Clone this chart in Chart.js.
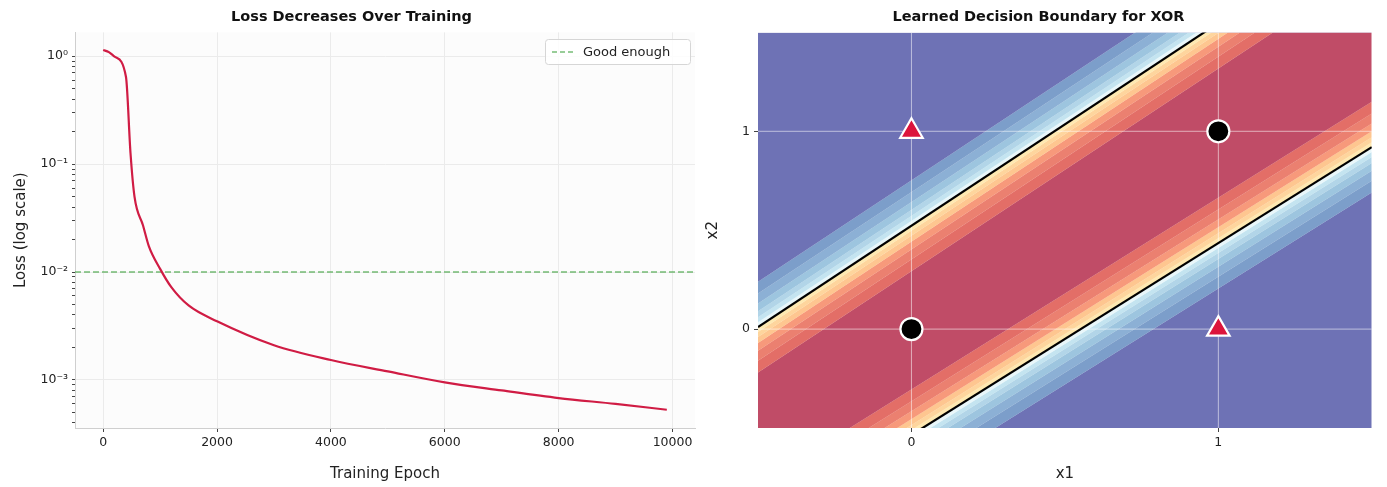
<!DOCTYPE html>
<html><head><meta charset="utf-8">
<script src="https://cdn.jsdelivr.net/npm/chart.js@4"></script>
<style>
body{margin:0;background:#fff;width:1387px;height:487px;overflow:hidden;font-family:"DejaVu Sans",sans-serif}
.box{position:absolute;top:0;height:487px}
#b1{left:0;width:700px}#b2{left:700px;width:687px}
</style></head><body>
<div class="box" id="b1"><canvas id="lossChart"></canvas></div>
<div class="box" id="b2"><canvas id="xorChart"></canvas></div>
<script>
// loss curve
var epochs = [0, 100, 200, 400, 480, 550, 700, 800, 1000, 1200, 1500, 2000, 3000, 4000, 5000, 6000, 7000, 8000, 9000, 9900];
var losses = [1.14, 1.09, 0.99, 0.645, 0.126, 0.05, 0.027, 0.0175, 0.0107, 0.0072, 0.0049, 0.0035, 0.0021, 0.00153, 0.0012, 0.00095, 0.0008, 0.00068, 0.0006, 0.00053];
var goodEnough = 0.01;
var epochTicks = [0, 2000, 4000, 6000, 8000, 10000];

// decision boundary (p = 0.5) lines, endpoints at x1 = -0.5 and 1.5
var edgeX = [-0.5, 1.5];
var upperBoundary = [0.01, 2.06];
var lowerBoundary = [-1.02, 0.92];
// contour level offsets around each boundary (x2 units), blue side first for upper line
var levelOffsets = [0.23, 0.17, 0.12, 0.08, 0.05, 0.025, 0, -0.025, -0.05, -0.08, -0.12, -0.17, -0.23];
var blueBands = ["#4575b4", "#5b8fc3", "#74add1", "#91c3de", "#abd9e9", "#e0f3f8"];
var redBands = ["#fee090", "#fdc374", "#fdae61", "#f46d43", "#e34a33", "#d73027"];
var blueSolid = "#313695", redSolid = "#a50026";
var circlePts = [{x: 0, y: 0}, {x: 1, y: 1}];
var trianglePts = [{x: 0, y: 1}, {x: 1, y: 0}];
var gridTicks = [0, 1];

function alpha(hex, a) {
  var n = parseInt(hex.slice(1), 16);
  return "rgba(" + (n >> 16) + "," + ((n >> 8) & 255) + "," + (n & 255) + "," + a + ")";
}

Chart.defaults.font.family = "'DejaVu Sans', sans-serif";
Chart.defaults.color = "#222";
Chart.defaults.animation = false;

var supers = {"-": "⁻", "0": "⁰", "1": "¹", "2": "²", "3": "³"};
function sup(n) { return String(n).split("").map(function(c) { return supers[c]; }).join(""); }

var panelBg = {
  id: "panelBg",
  beforeDraw: function(c) {
    var a = c.chartArea, ctx = c.ctx;
    ctx.save(); ctx.fillStyle = "#fcfcfc";
    ctx.fillRect(a.left, a.top, a.right - a.left, a.bottom - a.top);
    ctx.restore();
  }
};
var legendBox = {
  id: "legendBox",
  afterDraw: function(c) {
    var ctx = c.ctx, r = c.chartArea.right;
    var x = r - 150, y = 39;
    ctx.save();
    ctx.fillStyle = "rgba(255,255,255,0.85)"; ctx.strokeStyle = "#d6d6d6"; ctx.lineWidth = 1;
    ctx.beginPath(); ctx.roundRect(x + 0.5, y + 0.5, 145, 25, 3); ctx.fill(); ctx.stroke();
    ctx.strokeStyle = "rgba(60,160,60,0.7)"; ctx.lineWidth = 1.5; ctx.setLineDash([5, 3]);
    ctx.beginPath(); ctx.moveTo(x + 7, y + 13); ctx.lineTo(x + 30, y + 13); ctx.stroke();
    ctx.setLineDash([]); ctx.fillStyle = "#222"; ctx.font = "13px 'DejaVu Sans'"; ctx.textBaseline = "middle";
    ctx.fillText("Good enough", x + 38, y + 13.5);
    ctx.restore();
  }
};

var logTicks = [];
[-4, -3, -2, -1, 0].forEach(function(e) {
  for (var m = 1; m < 10; m++) {
    var v = m * Math.pow(10, e);
    if (v >= 3.59e-4 && v <= 1.66) logTicks.push({value: v, major: m === 1});
  }
});

new Chart(document.getElementById("lossChart"), {
  type: "line",
  data: {
    datasets: [{
      data: epochs.map(function(e, i) { return {x: e, y: losses[i]}; }),
      borderColor: "#d01c44", borderWidth: 2.2, pointRadius: 0, cubicInterpolationMode: "monotone"
    }, {
      data: [{x: -495, y: goodEnough}, {x: 10395, y: goodEnough}],
      borderColor: "rgba(60,160,60,0.7)", borderWidth: 1.5, borderDash: [6, 3], pointRadius: 0
    }]
  },
  plugins: [panelBg, legendBox],
  options: {
    responsive: true, maintainAspectRatio: false,
    layout: {padding: {right: 5, left: 8}},
    plugins: {
      legend: {display: false}, tooltip: {enabled: false},
      title: {display: true, text: "Loss Decreases Over Training", font: {size: 14.5, weight: "bold"}, color: "#111", padding: {top: 9, bottom: 6}}
    },
    scales: {
      x: {
        type: "linear", min: -495, max: 10395,
        afterBuildTicks: function(s) { s.ticks = epochTicks.map(function(v) { return {value: v}; }); },
        afterFit: function(s) { s.height = 59; },
        grid: {color: "#ebebeb", tickColor: "#444", tickLength: 4},
        border: {color: "#cfcfcf"},
        ticks: {font: {size: 12.5}, padding: 3, maxRotation: 0, callback: function(v) { return String(v); }},
        title: {display: true, text: "Training Epoch", font: {size: 15}, padding: {top: 2}}
      },
      y: {
        type: "logarithmic", min: 3.59e-4, max: 1.66,
        afterBuildTicks: function(s) { s.ticks = logTicks.map(function(t) { return {value: t.value, major: t.major}; }); },
        afterFit: function(s) { s.width = 67; },
        grid: {
          color: function(ctx) { return ctx.tick && ctx.tick.major ? "#ebebeb" : "rgba(0,0,0,0)"; },
          tickColor: "#444", tickLength: 3
        },
        border: {color: "#cfcfcf"},
        ticks: {
          font: {size: 12.5}, padding: 4, autoSkip: false,
          callback: function(v) {
            var e = Math.round(Math.log10(v));
            return Math.abs(v - Math.pow(10, e)) < 1e-12 ? "10" + sup(e) : "";
          }
        },
        title: {display: true, text: "Loss (log scale)", font: {size: 15}, padding: {bottom: 0}}
      }
    }
  }
});

// ---- decision boundary panel ----
function shifted(base, off) {
  return edgeX.map(function(x, i) { return {x: x, y: base[i] + off}; });
}
var bandSets = [];
function addBoundary(base, colorsTopToBottom, topColor) {
  levelOffsets.forEach(function(off, i) {
    var col = i === 0 ? topColor : colorsTopToBottom[i - 1];
    bandSets.push({
      type: "line", data: shifted(base, off), pointRadius: 0, borderWidth: 0,
      backgroundColor: alpha(col, 0.7), fill: i === 0 ? "end" : "-1"
    });
  });
}
addBoundary(upperBoundary, blueBands.concat(redBands), blueSolid);
var firstLower = bandSets.length;
addBoundary(lowerBoundary, redBands.slice().reverse().concat(blueBands.slice().reverse()), redSolid);
bandSets[firstLower].fill = "-1";
var lastLine = bandSets[bandSets.length - 1];
bandSets.push({type: "line", data: lastLine.data, pointRadius: 0, borderWidth: 0, backgroundColor: alpha(blueSolid, 0.7), fill: "start"});

var gridSets = [];
gridTicks.forEach(function(t) {
  gridSets.push({type: "line", data: [{x: t, y: -0.5}, {x: t, y: 1.5}], borderColor: "rgba(255,255,255,0.55)", borderWidth: 1, pointRadius: 0, fill: false});
  gridSets.push({type: "line", data: [{x: -0.5, y: t}, {x: 1.5, y: t}], borderColor: "rgba(255,255,255,0.55)", borderWidth: 1, pointRadius: 0, fill: false});
});
var boundarySets = [upperBoundary, lowerBoundary].map(function(b) {
  return {type: "line", data: shifted(b, 0), borderColor: "#000", borderWidth: 2.2, pointRadius: 0, fill: false};
});
var markerSets = [{
  type: "scatter", data: circlePts, pointStyle: "circle", pointRadius: 11,
  backgroundColor: "#000", borderColor: "#fff", borderWidth: 2.2
}, {
  type: "scatter", data: trianglePts, pointStyle: "triangle", pointRadius: 13,
  backgroundColor: "#dc143c", borderColor: "#fff", borderWidth: 2.2
}];

// first dataset is drawn on top; fill '-1' refers to previous index, so keep bands in order at the end
var allSets = markerSets.concat(boundarySets, gridSets);
var bandStart = allSets.length;
allSets = allSets.concat(bandSets);

new Chart(document.getElementById("xorChart"), {
  type: "scatter",
  data: {datasets: allSets},
  options: {
    responsive: true, maintainAspectRatio: false,
    layout: {padding: {right: 10}},
    plugins: {
      legend: {display: false}, tooltip: {enabled: false},
      filler: {drawTime: "beforeDatasetsDraw"},
      title: {display: true, text: "Learned Decision Boundary for XOR", font: {size: 14.5, weight: "bold"}, color: "#111", padding: {top: 9, bottom: 6}}
    },
    scales: {
      x: {
        type: "linear", min: -0.5, max: 1.5,
        afterBuildTicks: function(s) { s.ticks = gridTicks.map(function(v) { return {value: v}; }); },
        afterFit: function(s) { s.height = 59; },
        grid: {display: true, color: "rgba(0,0,0,0)", tickColor: "#444", tickLength: 4},
        border: {display: false},
        ticks: {font: {size: 12.5}, padding: 3},
        title: {display: true, text: "x1", font: {size: 15}, padding: {top: 6}}
      },
      y: {
        type: "logarithmic" === "x" ? "" : "linear", min: -0.5, max: 1.5,
        afterBuildTicks: function(s) { s.ticks = gridTicks.map(function(v) { return {value: v}; }); },
        afterFit: function(s) { s.width = 58; },
        grid: {display: true, color: "rgba(0,0,0,0)", tickColor: "#444", tickLength: 4},
        border: {display: false},
        ticks: {font: {size: 12.5}, padding: 4},
        title: {display: true, text: "x2", font: {size: 15}, padding: {bottom: 8}}
      }
    }
  }
});
</script>
</body></html>
